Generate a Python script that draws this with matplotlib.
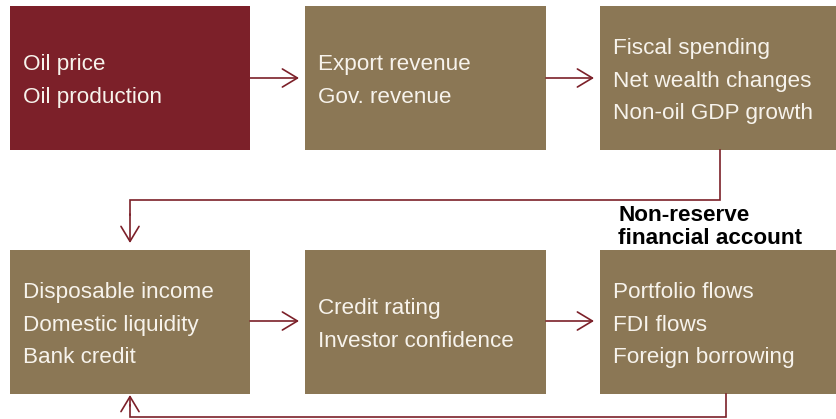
import matplotlib.pyplot as plt
from matplotlib.patches import Rectangle, FancyArrowPatch

plt.rcParams['font.family'] = ['Liberation Sans', 'DejaVu Sans']

# box texts, top row then bottom row
top_labels = [
    ["Oil price", "Oil production"],
    ["Export revenue", "Gov. revenue"],
    ["Fiscal spending", "Net wealth changes", "Non-oil GDP growth"],
]
bottom_labels = [
    ["Disposable income", "Domestic liquidity", "Bank credit"],
    ["Credit rating", "Investor confidence"],
    ["Portfolio flows", "FDI flows", "Foreign borrowing"],
]
account_label = "Non-reserve\nfinancial account"

RED = "#7C2029"
BROWN = "#8B7755"
TXT = "#F7F3EC"

W, H = 836, 419
fig = plt.figure(figsize=(W / 100, H / 100), dpi=100)
ax = fig.add_axes([0, 0, 1, 1])
ax.set_xlim(0, W)
ax.set_ylim(H, 0)
ax.axis("off")

box_x = [(10, 250), (305, 546), (600, 836)]
text_x = [23, 318, 613]
rows = [(6, 150), (250, 394)]


def draw_box(x0, x1, y0, y1, lines, color, tx):
    ax.add_patch(Rectangle((x0, y0), x1 - x0, y1 - y0, facecolor=color,
                           edgecolor="none"))
    yc = (y0 + y1) / 2 + 3
    gap = 32.3
    start = yc - gap * (len(lines) - 1) / 2
    for i, s in enumerate(lines):
        ax.text(tx, start + i * gap, s, color=TXT, fontsize=16.2,
                va="center", ha="left")


for i, lines in enumerate(top_labels):
    draw_box(*box_x[i], *rows[0], lines, RED if i == 0 else BROWN, text_x[i])
for i, lines in enumerate(bottom_labels):
    draw_box(*box_x[i], *rows[1], lines, BROWN, text_x[i])

astyle = "->,head_length=10.8,head_width=6.5"


def arrow(p0, p1):
    ax.add_patch(FancyArrowPatch(p0, p1, arrowstyle=astyle, mutation_scale=1,
                                 color=RED, lw=1.2, shrinkA=0, shrinkB=0))


# straight arrows between boxes
arrow((250, 78), (299, 78))
arrow((546, 78), (594, 78))
arrow((250, 321), (299, 321))
arrow((546, 321), (594, 321))

# top row to bottom row
ax.plot([720, 720, 130, 130], [150, 200, 200, 215], color=RED, lw=1.2,
        solid_joinstyle="miter")
arrow((130, 214), (130, 243))

# feedback loop under the bottom row
ax.plot([726, 726, 130, 130], [394, 416.5, 416.5, 405], color=RED, lw=1.2,
        solid_joinstyle="miter")
arrow((130, 406), (130, 395))

ax.text(618, 227, account_label, color="black", fontsize=16.2,
        fontweight="bold", va="center", ha="left", linespacing=1.12)

fig.savefig("out.png", dpi=100)
